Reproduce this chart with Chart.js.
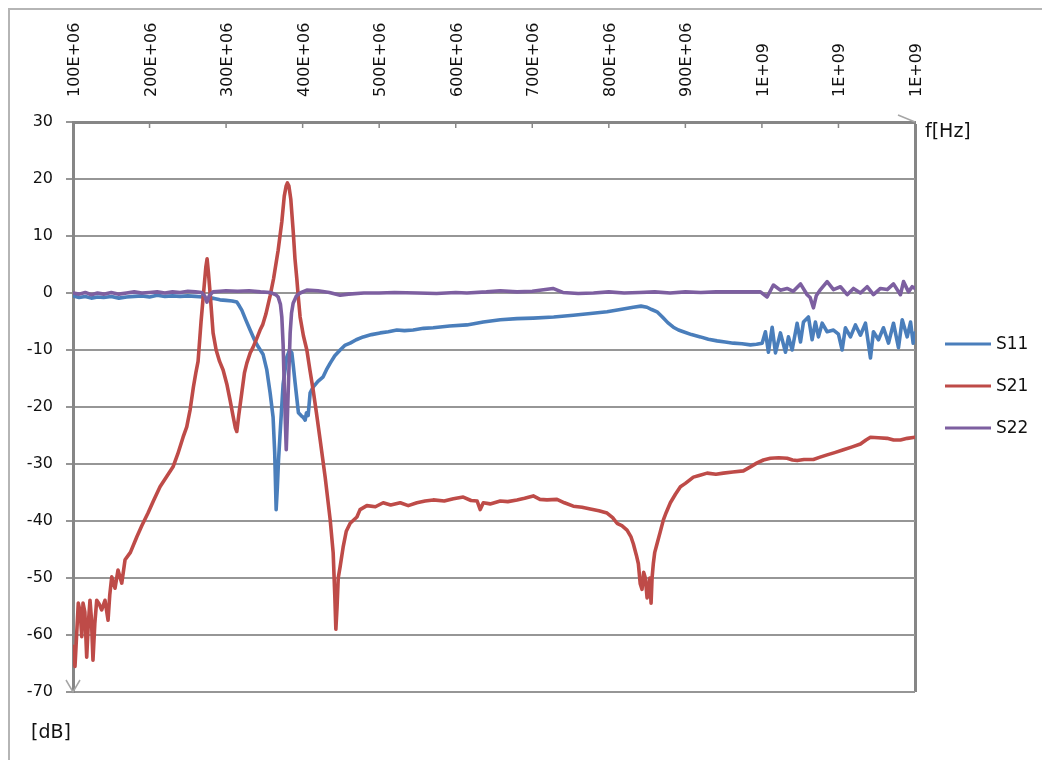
<!DOCTYPE html>
<html><head><meta charset="utf-8">
<script src="https://cdn.jsdelivr.net/npm/chart.js@4/dist/chart.umd.min.js"></script>
<style>html,body{margin:0;padding:0;background:#fff;overflow:hidden}canvas{display:block}</style>
</head><body>
<canvas id="c" width="1042" height="760" style="width:1042px;height:760px"></canvas>
<script>
// Category tick labels of the frequency axis (MHz positions 100..1200)
const tickLabels = ["100E+06","200E+06","300E+06","400E+06","500E+06","600E+06","700E+06","800E+06","900E+06","1E+09","1E+09","1E+09"];
const seriesNames = ["S11","S21","S22"];
const seriesColors = ["#4A7EBB","#BE4B48","#7D5FA0"];

// [frequency MHz, dB]
const s11Points = [[100,-0.5],[108,-0.8],[116,-0.6],[124,-0.9],[132,-0.7],[140,-0.8],[150,-0.6],[160,-0.9],[170,-0.7],[180,-0.6],[190,-0.5],[200,-0.7],[210,-0.4],[220,-0.6],[230,-0.5],[240,-0.6],[250,-0.5],[260,-0.6],[270,-0.7],[275,-1.0],[283,-0.9],[292,-1.2],[300,-1.3],[308,-1.4],[314,-1.6],[317,-2.2],[320.5,-3],[326,-4.8],[331.4,-6.5],[337,-8.2],[341.8,-9.4],[348.4,-10.8],[353.2,-13.5],[357.5,-17.5],[361.4,-21.8],[363.5,-28],[365.4,-38],[367,-34],[368.5,-29.3],[370.6,-24.6],[374.5,-16],[379.4,-11.2],[383,-10],[385.9,-10.5],[388,-13],[390.2,-15.8],[394.5,-21],[398,-21.5],[400.7,-21.8],[403.3,-22.3],[405,-21],[407.2,-21.5],[409.8,-17.5],[413.7,-16.5],[420,-15.5],[426.8,-14.7],[431,-13.5],[436,-12.3],[442,-11],[449,-10],[455,-9.2],[462.1,-8.8],[470,-8.2],[479.1,-7.7],[490,-7.3],[501.3,-7],[512,-6.8],[523.1,-6.5],[533,-6.6],[544.4,-6.5],[558,-6.2],[570.6,-6.1],[592,-5.8],[614.6,-5.6],[636,-5.1],[658.2,-4.7],[680,-4.5],[701.3,-4.4],[728,-4.2],[753.6,-3.9],[776,-3.6],[797.7,-3.3],[815,-2.9],[832,-2.5],[842,-2.3],[849.9,-2.5],[856,-2.9],[863,-3.3],[870,-4.2],[877,-5.2],[884.3,-6],[891,-6.5],[897.4,-6.8],[908,-7.3],[919.6,-7.7],[930,-8.1],[941.4,-8.4],[952,-8.6],[962.7,-8.8],[974,-8.9],[985,-9.1],[993,-9],[1000.3,-8.8],[1004.6,-6.8],[1008.5,-10.4],[1013.4,-6],[1017.7,-10.5],[1024.2,-7],[1030.8,-10.4],[1034.7,-7.7],[1039.5,-10],[1046,-5.3],[1050.4,-8.6],[1054.3,-5.1],[1060.8,-4.2],[1065.6,-8.2],[1069.9,-5.1],[1073.9,-7.7],[1078.7,-5.3],[1085.2,-6.8],[1093.5,-6.5],[1100,-7.2],[1104.8,-10],[1109.1,-6.1],[1115.7,-7.7],[1122.2,-5.6],[1128.7,-7.4],[1135.3,-5.3],[1141.8,-11.4],[1145.7,-6.8],[1152.3,-8.2],[1158.8,-6.1],[1165.4,-8.8],[1171.9,-5.3],[1178.4,-9.6],[1183.3,-4.7],[1189.8,-7.7],[1194.2,-5.1],[1197.6,-8.8],[1200,-7]];

const s21Points = [[100,-62],[102.6,-65.5],[106.9,-54.4],[109.5,-56],[111.4,-60.3],[113.1,-54.4],[115.5,-56],[117.9,-63.9],[120,-58],[122.2,-53.9],[124,-57],[126.1,-64.4],[128.5,-58],[131,-53.9],[134,-54.5],[137.5,-55.6],[141.8,-53.9],[145.8,-57.4],[148,-53],[150.6,-49.8],[154.9,-51.8],[158.8,-48.6],[163.7,-50.9],[168,-46.8],[175,-45.5],[183.3,-42.8],[190,-40.8],[198,-38.6],[205,-36.5],[213.7,-34],[222,-32.3],[230.7,-30.5],[237,-28.2],[243.8,-25.3],[248.6,-23.5],[253,-20.5],[257.3,-16.5],[260.5,-14],[263.4,-12],[267.3,-5],[271.2,1],[273.5,4.5],[275.2,6],[277,3.5],[279.1,0],[283,-7],[287,-10],[291.5,-12],[296.1,-13.5],[301,-16],[305.2,-18.8],[309,-21.5],[312,-23.6],[314,-24.3],[316.5,-21.5],[320.5,-17.5],[324,-14],[327.1,-12.3],[331.5,-10.5],[335.3,-9.5],[340,-8],[344.4,-6.5],[348,-5.5],[352,-3.7],[357.5,-0.5],[362,2.5],[368,7.5],[372.8,12.5],[376,17],[378.5,18.8],[380.1,19.3],[382,18.8],[384.5,16.5],[387.6,11],[390,6],[392.4,2.5],[394.5,-1],[396.7,-4.2],[401,-7.5],[405.5,-10],[409.5,-13.5],[413.7,-17],[418,-21],[422.9,-25.8],[429.4,-32.3],[436,-39.8],[439.9,-45.6],[442,-53],[443.4,-59],[445,-55],[446.5,-50],[449,-48],[452.9,-44.6],[457,-41.8],[462.1,-40.4],[470.9,-39.3],[475,-38],[483.9,-37.3],[495,-37.5],[505.2,-36.8],[515,-37.2],[527.5,-36.8],[538,-37.3],[549.3,-36.8],[560,-36.5],[570.6,-36.3],[585,-36.5],[597,-36.1],[609.8,-35.8],[620,-36.4],[628,-36.5],[632,-38],[636,-36.8],[645,-37],[658.2,-36.5],[668,-36.6],[680,-36.3],[690,-36],[701.3,-35.6],[710,-36.2],[719.2,-36.3],[732.3,-36.2],[742,-36.8],[753.6,-37.4],[765,-37.6],[775.8,-37.9],[787,-38.2],[797.7,-38.6],[805,-39.4],[810.7,-40.4],[817,-40.8],[823.8,-41.6],[829,-42.8],[832,-44],[836,-46],[838.6,-47.5],[841,-51],[843.4,-52],[845.5,-49],[847.7,-50],[850,-53.5],[851.7,-52],[853.5,-50],[855.2,-54.4],[856.5,-50],[858.2,-47.4],[860,-45.5],[863,-44],[867,-42],[871.3,-39.8],[875,-38.5],[880.4,-36.8],[887,-35.3],[893.5,-34],[900,-33.4],[910.5,-32.3],[918,-32],[928.4,-31.6],[940,-31.8],[949.7,-31.6],[962,-31.4],[975.8,-31.2],[985,-30.5],[993.7,-29.8],[1002,-29.3],[1011.1,-29],[1022,-28.9],[1032.9,-29],[1040,-29.3],[1046,-29.4],[1055,-29.2],[1067.3,-29.2],[1076,-28.8],[1085.2,-28.4],[1095,-28],[1106.5,-27.5],[1118,-27],[1128.7,-26.5],[1136,-25.8],[1141.8,-25.3],[1152,-25.4],[1163.7,-25.5],[1172,-25.8],[1181,-25.8],[1190,-25.5],[1200,-25.3]];

const s22Points = [[100,0],[108,-0.2],[116,0.1],[124,-0.3],[132,0],[140,-0.2],[150,0.1],[160,-0.2],[170,0],[180,0.2],[190,0],[200,0.1],[210,0.2],[220,0],[230,0.2],[240,0.1],[250,0.3],[260,0.2],[268,0.1],[272,-0.5],[275,-1.6],[278,-0.5],[283,0.2],[292,0.3],[300,0.4],[315,0.3],[330,0.4],[345,0.2],[357.5,0.1],[365,-0.3],[368,-0.7],[371,-2],[372.8,-4.2],[374.5,-9],[375.9,-15.8],[377.5,-23],[378.6,-27.5],[380,-22],[381.5,-15.8],[383.7,-7],[385.5,-3.5],[387.6,-1.8],[392,-0.5],[396.7,0],[405.5,0.5],[420,0.4],[435,0.1],[449,-0.4],[460,-0.2],[480,0],[500,0],[520,0.1],[550,0],[575,-0.1],[600,0.1],[614.6,0],[640,0.2],[658.2,0.4],[680,0.2],[700,0.3],[727,0.8],[740,0.1],[760,-0.1],[780,0],[800,0.2],[820,0],[840,0.1],[860,0.2],[880,0],[900,0.2],[920,0.1],[940,0.2],[960,0.2],[971.9,0.2],[998,0.2],[1006.8,-0.7],[1015,1.4],[1024,0.5],[1032.9,0.8],[1041,0.3],[1050.4,1.6],[1059.1,-0.3],[1063,-0.8],[1067.3,-2.6],[1071,-0.5],[1076.5,0.6],[1085.2,2],[1093.5,0.6],[1102.6,1.1],[1111.4,-0.3],[1119.6,0.8],[1128.7,0],[1137.5,1.1],[1145.7,-0.3],[1154.9,0.8],[1163.7,0.6],[1171.9,1.6],[1181,-0.3],[1185,2],[1191.5,0.2],[1196.3,1.1],[1200,0.8]];

const FONT = '"DejaVu Sans"';
const toXY = pts => pts.map(p => ({x: p[0], y: p[1]}));

const deco = {
  id: 'deco',
  beforeDraw(ch) {
    const c = ch.ctx;
    c.save();
    c.fillStyle = '#fff'; c.fillRect(0, 0, ch.width, ch.height);
    c.strokeStyle = '#b5b5b5'; c.lineWidth = 2;
    c.strokeRect(9, 9, ch.width + 40, ch.height + 40);
    c.restore();
  },
  afterDraw(ch) {
    const c = ch.ctx, a = ch.chartArea, xs = ch.scales.x;
    c.save();
    c.strokeStyle = '#868686'; c.lineWidth = 1.5;
    xs.ticks.forEach(t => {
      const px = xs.getPixelForValue(t.value);
      c.beginPath(); c.moveTo(px, a.top); c.lineTo(px, a.top + 6); c.stroke();
    });
    c.strokeStyle = '#a6a6a6'; c.lineWidth = 1.5;
    c.beginPath(); c.moveTo(a.right - 17, a.top - 7); c.lineTo(a.right, a.top); c.stroke();
    c.beginPath(); c.moveTo(a.left - 7, a.bottom - 12); c.lineTo(a.left, a.bottom); c.lineTo(a.left + 7, a.bottom - 12); c.stroke();
    c.fillStyle = '#111'; c.font = '19px ' + FONT; c.textBaseline = 'middle'; c.textAlign = 'left';
    c.fillText('f[Hz]', a.right + 10, a.top + 10);
    c.fillText('[dB]', 31, a.bottom + 41);
    c.font = '17px ' + FONT;
    ch.data.datasets.forEach((d, i) => {
      const y = a.top + 222 + i * 42;
      c.strokeStyle = d.borderColor; c.lineWidth = 3;
      c.beginPath(); c.moveTo(a.right + 30, y); c.lineTo(a.right + 76, y); c.stroke();
      c.fillStyle = '#111';
      c.fillText(d.label, a.right + 81, y + 1);
    });
    c.restore();
  }
};

new Chart(document.getElementById('c'), {
  type: 'line',
  data: {
    datasets: [
      {label: seriesNames[0], data: toXY(s11Points), borderColor: seriesColors[0], order: 3},
      {label: seriesNames[1], data: toXY(s21Points), borderColor: seriesColors[1], order: 2},
      {label: seriesNames[2], data: toXY(s22Points), borderColor: seriesColors[2], order: 1}
    ]
  },
  options: {
    responsive: false, animation: false, devicePixelRatio: 1,
    layout: {padding: {left: 0, top: 0, right: 127, bottom: 68}},
    elements: {line: {borderWidth: 3.6, tension: 0, borderJoinStyle: 'round', borderCapStyle: 'round', fill: false}, point: {radius: 0}},
    plugins: {legend: {display: false}, tooltip: {enabled: false}},
    scales: {
      x: {
        type: 'linear', position: 'top', min: 100, max: 1200,
        afterFit(s) { s.height = 122; },
        border: {color: '#868686', width: 3},
        grid: {drawTicks: false,
          color: ctx => (ctx.tick && ctx.tick.value === 1200) ? '#868686' : 'rgba(0,0,0,0)',
          lineWidth: ctx => (ctx.tick && ctx.tick.value === 1200) ? 3 : 1},
        ticks: {stepSize: 100, autoSkip: false, minRotation: 90, maxRotation: 90, padding: 25, labelOffset: 21, color: '#111',
          font: {family: 'DejaVu Sans', size: 16}, callback: (v, i) => tickLabels[i]}
      },
      y: {
        min: -70, max: 30,
        afterFit(s) { s.width = 73; },
        border: {color: '#868686', width: 3},
        grid: {color: '#969696', lineWidth: 2, tickLength: 7},
        ticks: {stepSize: 10, padding: 13, color: '#111', font: {family: 'DejaVu Sans', size: 16}}
      }
    }
  },
  plugins: [deco]
});
</script>
</body></html>
